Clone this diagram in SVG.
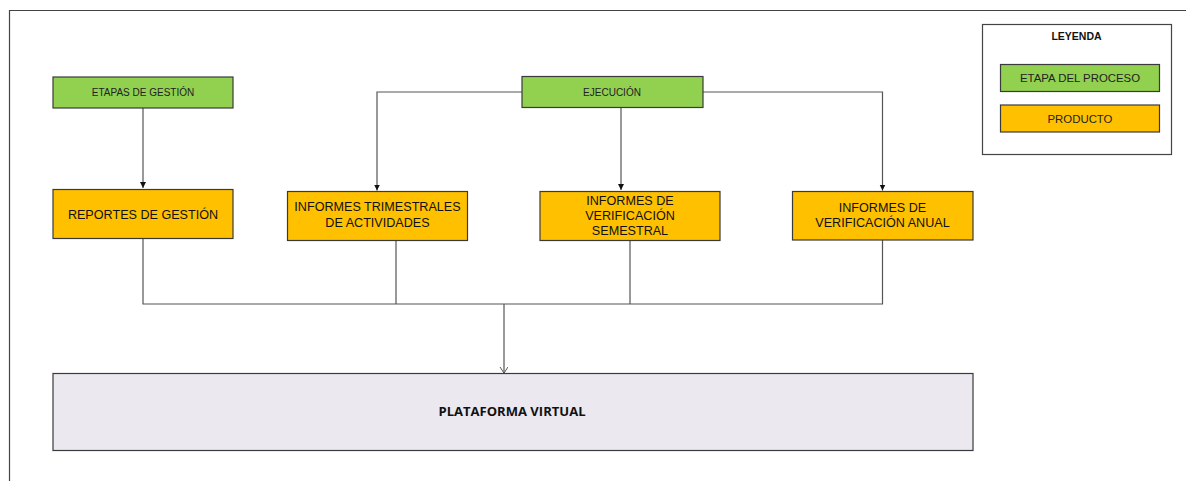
<svg xmlns="http://www.w3.org/2000/svg" width="1186" height="481" viewBox="0 0 1186 481">
<style>
.frame{fill:none;stroke:#444;stroke-width:1.2}
.green{fill:#92d050;stroke:#3a3a3a;stroke-width:1.2}
.orange{fill:#ffc000;stroke:#3a3a3a;stroke-width:1.2}
.plat{fill:#ebe8f0;stroke:#3a3a3a;stroke-width:1.2}
.legend{fill:#fff;stroke:#444;stroke-width:1.2}
.conn{fill:none;stroke:#555;stroke-width:1.2}
.t10{font-family:"Liberation Sans",Arial,sans-serif;font-size:10px;fill:#222;text-anchor:middle}
.t11{font-family:"Liberation Sans",Arial,sans-serif;font-size:11.4px;fill:#222;text-anchor:middle}
.t13{font-family:"Liberation Sans",Arial,sans-serif;font-size:12.6px;fill:#111;text-anchor:middle}
.tb{font-family:"Liberation Sans",Arial,sans-serif;font-size:10.5px;font-weight:bold;fill:#111;text-anchor:middle}
.tp{font-family:"Open Sans","Liberation Sans",sans-serif;font-size:12px;font-weight:bold;fill:#111;text-anchor:middle}
</style>
<defs>
<marker id="arr" markerWidth="8" markerHeight="8" refX="6" refY="3.5" orient="auto" markerUnits="userSpaceOnUse">
<path d="M0,0.5 L6,3.5 L0,6.5 Z" fill="#111"/>
</marker>
<marker id="open" markerWidth="10" markerHeight="10" refX="6" refY="4" orient="auto" markerUnits="userSpaceOnUse">
<path d="M0,0 L6,4 L0,8" fill="none" stroke="#555" stroke-width="1"/>
</marker>
</defs>
<rect width="1186" height="481" fill="#fff"/>
<path class="frame" d="M9.5,481 V10.5 H1186"/>

<g id="connectors">
<path class="conn" d="M143,108 V188" marker-end="url(#arr)"/>
<path class="conn" d="M522,92 H377 V190.5" marker-end="url(#arr)"/>
<path class="conn" d="M621,108 V190" marker-end="url(#arr)"/>
<path class="conn" d="M703,92 H882.5 V190.5" marker-end="url(#arr)"/>
<path class="conn" d="M143,238.5 V304 H882.5 V240"/>
<path class="conn" d="M396,240.5 V304"/>
<path class="conn" d="M630,240.5 V304"/>
<path class="conn" d="M504,304 V373" marker-end="url(#open)"/>
</g>

<g id="etapas-gestion">
<rect class="green" x="53" y="77" width="180" height="31"/>
<text class="t10" x="143" y="95.5">ETAPAS DE GESTIÓN</text>
</g>
<g id="ejecucion">
<rect class="green" x="522" y="76.5" width="181" height="31"/>
<text class="t10" x="612" y="95.5">EJECUCIÓN</text>
</g>
<g id="reportes">
<rect class="orange" x="53" y="189.5" width="180" height="49"/>
<text class="t13" x="143" y="218.5">REPORTES DE GESTIÓN</text>
</g>
<g id="trimestrales">
<rect class="orange" x="287.5" y="191.5" width="180" height="49"/>
<text class="t13" x="377.5" y="211">INFORMES TRIMESTRALES</text>
<text class="t13" x="377.5" y="227">DE ACTIVIDADES</text>
</g>
<g id="semestral">
<rect class="orange" x="540" y="191.5" width="180" height="49"/>
<text class="t13" x="630" y="204.5">INFORMES DE</text>
<text class="t13" x="630" y="219.5">VERIFICACIÓN</text>
<text class="t13" x="630" y="234.5">SEMESTRAL</text>
</g>
<g id="anual">
<rect class="orange" x="792.5" y="191.5" width="180.5" height="48.5"/>
<text class="t13" x="882.5" y="211.5">INFORMES DE</text>
<text class="t13" x="882.5" y="227">VERIFICACIÓN ANUAL</text>
</g>
<g id="plataforma">
<rect class="plat" x="53" y="373.5" width="920" height="77"/>
<text class="tp" x="512" y="416" textLength="147" lengthAdjust="spacingAndGlyphs">PLATAFORMA VIRTUAL</text>
</g>
<g id="leyenda">
<rect class="legend" x="982.5" y="24.5" width="189" height="130"/>
<text class="tb" x="1076.5" y="39.5">LEYENDA</text>
<rect class="green" x="1000.5" y="64.5" width="159" height="27"/>
<text class="t11" x="1080" y="82">ETAPA DEL PROCESO</text>
<rect class="orange" x="1000.5" y="105" width="159" height="27"/>
<text class="t11" x="1080" y="122.5">PRODUCTO</text>
</g>
</svg>
